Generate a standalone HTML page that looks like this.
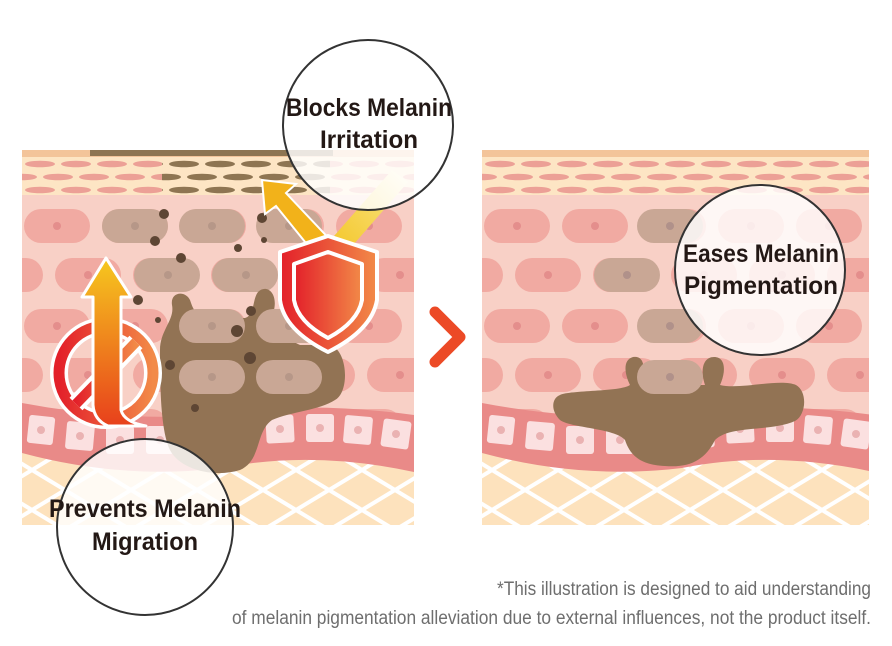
<!DOCTYPE html>
<html><head><meta charset="utf-8"><style>
html,body{margin:0;padding:0;background:#fff;}
svg{display:block;}
</style></head><body>
<svg width="892" height="646" viewBox="0 0 892 646" xmlns="http://www.w3.org/2000/svg">
<defs>
  <pattern id="corn" x="0" y="7" width="36" height="26" patternUnits="userSpaceOnUse">
    <ellipse cx="18" cy="7" rx="15" ry="3.3" fill="#eca096"/>
    <ellipse cx="0" cy="20" rx="15" ry="3.3" fill="#eca096"/>
    <ellipse cx="36" cy="20" rx="15" ry="3.3" fill="#eca096"/>
  </pattern>
  <pattern id="cornB" x="0" y="7" width="36" height="26" patternUnits="userSpaceOnUse">
    <ellipse cx="18" cy="7" rx="15" ry="3.3" fill="#8e7552"/>
    <ellipse cx="0" cy="20" rx="15" ry="3.3" fill="#8e7552"/>
    <ellipse cx="36" cy="20" rx="15" ry="3.3" fill="#8e7552"/>
  </pattern>
  <pattern id="cells" x="0" y="59" width="78" height="100" patternUnits="userSpaceOnUse">
    <rect x="2" y="0" width="66" height="34" rx="17" fill="#f1aaa2"/>
    <circle cx="35" cy="17" r="4" fill="#e48e8c"/>
    <rect x="-45" y="49" width="66" height="34" rx="17" fill="#f1aaa2"/>
    <rect x="33" y="49" width="66" height="34" rx="17" fill="#f1aaa2"/>
    <circle cx="66" cy="66" r="4" fill="#e48e8c"/>
    <circle cx="-12" cy="66" r="4" fill="#e48e8c"/>
  </pattern>
  <pattern id="hatch" x="10" y="0" width="66" height="40" patternUnits="userSpaceOnUse">
    <rect width="66" height="40" fill="#fde2bd"/>
    <path d="M0,0 L66,40 M0,40 L66,0" stroke="#fff" stroke-width="4"/>
  </pattern>
  <linearGradient id="arrV" x1="0" y1="0" x2="0" y2="1">
    <stop offset="0" stop-color="#f6c81e"/><stop offset="1" stop-color="#e8401c"/>
  </linearGradient>
  <linearGradient id="redH" x1="0" y1="0" x2="1" y2="0">
    <stop offset="0" stop-color="#e3202a"/><stop offset="1" stop-color="#f28a48"/>
  </linearGradient>
  <linearGradient id="arrR" x1="0" y1="1" x2="1" y2="0">
    <stop offset="0" stop-color="#f4c21c"/><stop offset="0.6" stop-color="#f6d860"/><stop offset="1" stop-color="#fff8e0"/>
  </linearGradient>
  <g id="skin">
    <rect x="0" y="0" width="392" height="375" fill="#f8d0c6"/>
    <rect x="0" y="0" width="392" height="7" fill="#f3c49a"/>
    <rect x="0" y="7" width="392" height="38" fill="#fde5c4"/>
    <rect x="0" y="7" width="392" height="38" fill="url(#corn)"/>
    <rect x="0" y="50" width="392" height="230" fill="url(#cells)"/>
    <rect x="0" y="285" width="392" height="90" fill="url(#hatch)"/>
    <path d="M0,253 Q100,272 200,265 Q280,250 392,265 L392,322 Q290,300 200,318 Q100,330 0,303 Z" fill="#e98a88"/>
    <g fill="#fbe0e0">
      <rect x="6" y="266" width="26" height="28" rx="3" transform="rotate(6 19 280)"/>
      <rect x="44" y="272" width="28" height="28" rx="3" transform="rotate(5 58 286)"/>
      <rect x="84" y="276" width="28" height="28" rx="3"/>
      <rect x="124" y="276" width="28" height="28" rx="3"/>
      <rect x="164" y="275" width="28" height="28" rx="3"/>
      <rect x="204" y="270" width="28" height="28" rx="3" transform="rotate(-4 218 284)"/>
      <rect x="244" y="265" width="28" height="28" rx="3" transform="rotate(-3 258 279)"/>
      <rect x="284" y="264" width="28" height="28" rx="3"/>
      <rect x="322" y="266" width="28" height="28" rx="3" transform="rotate(5 336 280)"/>
      <rect x="360" y="270" width="28" height="28" rx="3" transform="rotate(8 374 284)"/>
    </g>
    <g fill="#eab2b2">
      <circle cx="19" cy="280" r="4"/><circle cx="58" cy="286" r="4"/><circle cx="98" cy="290" r="4"/>
      <circle cx="138" cy="290" r="4"/><circle cx="178" cy="289" r="4"/><circle cx="218" cy="284" r="4"/>
      <circle cx="258" cy="279" r="4"/><circle cx="298" cy="278" r="4"/><circle cx="336" cy="280" r="4"/><circle cx="374" cy="284" r="4"/>
    </g>
  </g>
  <clipPath id="cpL"><rect x="22" y="150" width="392" height="375"/></clipPath>
  <clipPath id="cpR"><rect x="482" y="150" width="387" height="375"/></clipPath>
</defs>

<!-- LEFT PANEL -->
<g clip-path="url(#cpL)">
  <use href="#skin" transform="translate(22,150)"/>
  <g transform="translate(22,150)">
    <rect x="68" y="0" width="243" height="6" fill="#8e7552"/>
    <rect x="140" y="7" width="168" height="38" fill="#fde5c4"/>
    <rect x="140" y="7" width="168" height="38" fill="url(#cornB)"/>
  </g>
  <g fill="#c9a795">
    <rect x="102" y="209" width="66" height="34" rx="17"/>
    <rect x="179" y="209" width="66" height="34" rx="17"/>
    <rect x="256" y="209" width="66" height="34" rx="17"/>
    <rect x="134" y="258" width="66" height="34" rx="17"/>
    <rect x="212" y="258" width="66" height="34" rx="17"/>
  </g>
  <path d="M160,350 C160,330 175,320 172,305 C170,292 185,290 190,300 C194,312 196,316 215,318 L245,318 C255,315 252,300 258,292 C266,284 278,292 274,310 C270,330 290,340 300,345 L330,345 C348,350 350,392 335,400 C320,410 290,412 272,420 C255,432 262,460 240,470 C215,478 180,470 170,450 C160,430 160,380 160,350 Z" fill="#927354"/>
  <g fill="#c9a795">
    <rect x="179" y="309" width="66" height="34" rx="17"/>
    <rect x="256" y="309" width="66" height="34" rx="17"/>
    <rect x="179" y="360" width="66" height="34" rx="17"/>
    <rect x="256" y="360" width="66" height="34" rx="17"/>
  </g>
  <g fill="#b69788"><circle cx="212" cy="326" r="4"/><circle cx="289" cy="326" r="4"/><circle cx="212" cy="377" r="4"/><circle cx="289" cy="377" r="4"/><circle cx="135" cy="226" r="4"/><circle cx="212" cy="226" r="4"/><circle cx="289" cy="226" r="4"/><circle cx="168" cy="275" r="4"/><circle cx="246" cy="275" r="4"/></g>
  <g fill="#5e4634">
    <circle cx="164" cy="214" r="5"/><circle cx="155" cy="241" r="5"/><circle cx="181" cy="258" r="5"/>
    <circle cx="238" cy="248" r="4"/><circle cx="262" cy="218" r="5"/><circle cx="264" cy="240" r="3"/>
    <circle cx="138" cy="300" r="5"/><circle cx="158" cy="320" r="3"/><circle cx="237" cy="331" r="6"/>
    <circle cx="251" cy="311" r="5"/><circle cx="250" cy="358" r="6"/><circle cx="195" cy="408" r="4"/><circle cx="170" cy="365" r="5"/>
  </g>
  <!-- prohibition + arrow -->
  <circle cx="106" cy="373" r="47" fill="none" stroke="#fff" stroke-width="18"/>
  <circle cx="106" cy="373" r="47" fill="none" stroke="url(#redH)" stroke-width="11"/>
  <line x1="136" y1="342" x2="76" y2="404" stroke="#fff" stroke-width="18"/>
  <line x1="136" y1="342" x2="76" y2="404" stroke="url(#redH)" stroke-width="10"/>
  <path d="M106,258 L131,297 L121,297 L121,410 Q124,422 146,426 L108,426 Q94,420 93,405 L93,297 L82,297 Z" fill="url(#arrV)" stroke="#fff" stroke-width="3" stroke-linejoin="round"/>
  <!-- shield + arrows -->
  <path d="M318,258 L276,206 L265,214 L262,180 L296,184 L286,193 L336,246 Z" fill="#f2b21a" stroke="#fff" stroke-width="2"/>
  <path d="M320,252 L392,170 L408,182 L340,260 Z" fill="url(#arrR)"/>
  <path d="M328,236 L377,252 L377,300 Q372,330 328,352 Q284,330 280,300 L280,252 Z" fill="url(#redH)" stroke="#fff" stroke-width="4" stroke-linejoin="round"/>
  <path d="M328,252 L362,264 L362,300 Q358,322 328,338 Q298,322 294,300 L294,264 Z" fill="url(#redH)" stroke="#fff" stroke-width="4" stroke-linejoin="round"/>
</g>

<!-- chevron -->
<path d="M435,312 L460,337 L435,362" fill="none" stroke="#ec4a26" stroke-width="11" stroke-linecap="round" stroke-linejoin="round"/>

<!-- RIGHT PANEL -->
<g clip-path="url(#cpR)">
  <use href="#skin" transform="translate(482,150)"/>
  <g fill="#c9a795">
    <rect x="637" y="209" width="66" height="34" rx="17"/>
    <rect x="594" y="258" width="66" height="34" rx="17"/>
    <rect x="637" y="309" width="66" height="34" rx="17"/>
  </g>
  <path d="M560,395 C570,390 620,392 630,385 C625,375 622,360 633,357 C645,355 646,370 640,385 L705,385 C700,370 703,357 714,357 C726,357 726,372 720,385 C740,390 780,378 796,385 C808,392 806,415 795,421 C770,432 730,425 715,440 C705,460 690,468 665,466 C640,465 630,455 625,440 C615,428 570,428 560,420 C550,410 552,398 560,395 Z" fill="#927354"/>
  <rect x="637" y="360" width="66" height="34" rx="17" fill="#c9a795"/>
  <g fill="#b0918a"><circle cx="670" cy="226" r="4"/><circle cx="627" cy="275" r="4"/><circle cx="670" cy="326" r="4"/><circle cx="670" cy="377" r="4"/></g>
</g>

<!-- label circles -->
<g font-family="'Liberation Sans', sans-serif" font-weight="bold" fill="#231815" text-anchor="middle" font-size="25">
  <circle cx="368" cy="125" r="85" fill="#fff" fill-opacity="0.82" stroke="#333" stroke-width="2"/>
  <text x="369" y="116" textLength="166" lengthAdjust="spacingAndGlyphs">Blocks Melanin</text>
  <text x="369" y="148" textLength="98" lengthAdjust="spacingAndGlyphs">Irritation</text>

  <circle cx="145" cy="527" r="88" fill="#fff" fill-opacity="0.82" stroke="#333" stroke-width="2"/>
  <text x="145" y="517" textLength="192" lengthAdjust="spacingAndGlyphs">Prevents Melanin</text>
  <text x="145" y="550" textLength="106" lengthAdjust="spacingAndGlyphs">Migration</text>

  <circle cx="760" cy="270" r="85" fill="#fff" fill-opacity="0.82" stroke="#333" stroke-width="2"/>
  <text x="761" y="262" textLength="156" lengthAdjust="spacingAndGlyphs">Eases Melanin</text>
  <text x="761" y="294" textLength="154" lengthAdjust="spacingAndGlyphs">Pigmentation</text>
</g>

<!-- footnote -->
<g font-family="'Liberation Sans', sans-serif" fill="#6e6e6e" font-size="19" text-anchor="end">
  <text x="871" y="595" textLength="374" lengthAdjust="spacingAndGlyphs">*This illustration is designed to aid understanding</text>
  <text x="871" y="624" textLength="639" lengthAdjust="spacingAndGlyphs">of melanin pigmentation alleviation due to external influences, not the product itself.</text>
</g>
</svg>
</body></html>
